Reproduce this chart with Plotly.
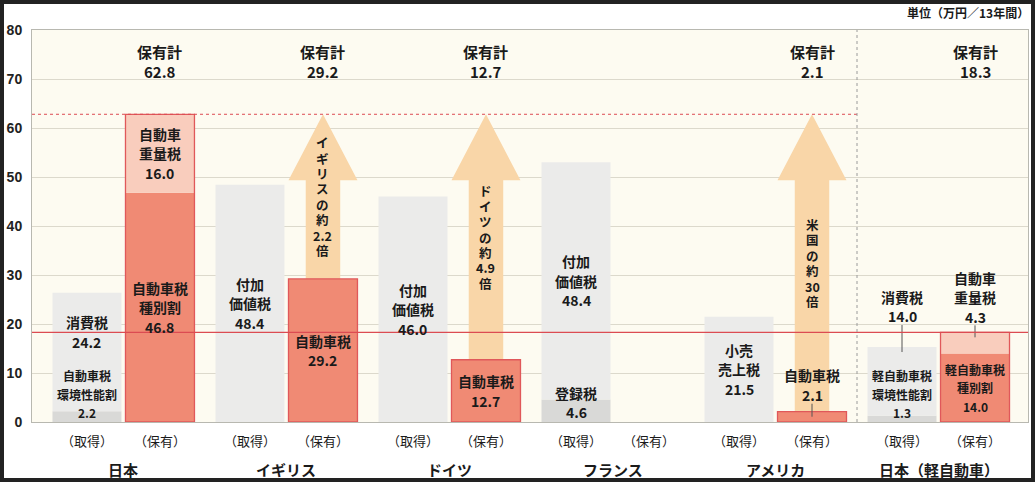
import plotly.graph_objects as go

# ---------------- data ----------------
groups = ["日本", "イギリス", "ドイツ", "フランス", "アメリカ", "日本（軽自動車）"]
kind_labels = ["（取得）", "（保有）"]

acq_low = [2.2, None, None, 4.6, None, 1.3]
acq_low_names = ["自動車税<br>環境性能割", None, None, "登録税", None, "軽自動車税<br>環境性能割"]
acq_main = [24.2, 48.4, 46.0, 48.4, 21.5, 14.0]
acq_main_names = ["消費税", "付加<br>価値税", "付加<br>価値税", "付加<br>価値税", "小売<br>売上税", "消費税"]
own_main = [46.8, 29.2, 12.7, None, 2.1, 14.0]
own_main_names = ["自動車税<br>種別割", "自動車税", "自動車税", None, "自動車税", "軽自動車税<br>種別割"]
own_top = [16.0, None, None, None, None, 4.3]
own_top_names = ["自動車<br>重量税", None, None, None, None, "自動車<br>重量税"]
ratio_labels = [None, "イギリスの約2.2倍", "ドイツの約4.9倍", None, "米国の約30倍", None]
total_label = "保有計"
unit_label = "単位（万円／13年間）"

# ---------------- layout constants ----------------
W, H = 1035, 482
ML, MR, MT, MB = 32, 7, 30, 60
PW, PH = W - ML - MR, H - MT - MB
GROUP_STEP = 2.233
BAR_W = 0.945
X_RANGE = [-0.753, -0.753 + PW / 73.0]
Y_RANGE = [0, 80]
UNIT_PX = PH / (Y_RANGE[1] - Y_RANGE[0])

FONT = "Noto Sans CJK JP"
C_GRAY = "#EBEBEA"
C_GRAY_D = "#D9D9D7"
C_SALMON = "#F08A74"
C_PINK = "#F9CDBD"
C_RED = "#DC4B52"
C_OUTLINE = "#E0585A"
C_ARROW = "#F9D6A8"
C_BG = "#FDFBF1"
C_TXT = "#1a1a1a"

n = len(groups)
x_acq = [i * GROUP_STEP for i in range(n)]
x_own = [i * GROUP_STEP + 1 for i in range(n)]


def nz(v):
    return v if v is not None else 0.0


acq_base = [nz(a) for a in acq_low]
own_base = [nz(a) for a in own_main]
own_totals = [None if (m is None and t is None) else round(nz(m) + nz(t), 1) for m, t in zip(own_main, own_top)]
jp_total = own_totals[0]
kei_total = own_totals[5]

fig = go.Figure()
bar_common = dict(width=BAR_W, hoverinfo="skip", showlegend=False)
fig.add_trace(go.Bar(x=x_acq, y=acq_low, base=[0] * n, marker=dict(color=C_GRAY_D, line=dict(width=0)), **bar_common))
fig.add_trace(go.Bar(x=x_acq, y=acq_main, base=acq_base, marker=dict(color=C_GRAY, line=dict(width=0)), **bar_common))
fig.add_trace(go.Bar(x=x_own, y=own_main, base=[0] * n, marker=dict(color=C_SALMON, line=dict(width=0)), **bar_common))
fig.add_trace(go.Bar(x=x_own, y=own_top, base=own_base, marker=dict(color=C_PINK, line=dict(width=0)), **bar_common))
fig.add_trace(go.Bar(x=x_own, y=own_totals, base=[0] * n,
                     marker=dict(color="rgba(0,0,0,0)", line=dict(color=C_OUTLINE, width=1.3)), **bar_common))

shapes = []
annotations = []


def add_lines(xc, y, lines, spacing, anchor, shift, size, yref="y"):
    """Place each text line as its own annotation so the line spacing matches."""
    k = len(lines)
    for j, line in enumerate(lines):
        if anchor == "middle":
            off = ((k - 1) / 2 - j) * spacing
        else:  # bottom: last line sits on the anchor
            off = (k - 1 - j) * spacing + spacing / 2
        annotations.append(dict(x=xc, y=y, xref="x", yref=yref, text=f"<b>{line}</b>", showarrow=False,
                                xanchor="center", yanchor="middle", yshift=shift + off,
                                font=dict(family=FONT, size=size, color=C_TXT)))


# arrows
head_h = 66 / UNIT_PX
for i, lab in enumerate(ratio_labels):
    if not lab:
        continue
    xc = x_own[i]
    y0 = own_totals[i]
    tip = jp_total
    hb = tip - head_h
    hw = BAR_W / 2
    hs = BAR_W / 4
    path = (f"M {xc-hs},{y0} L {xc-hs},{hb} L {xc-hw},{hb} L {xc},{tip} "
            f"L {xc+hw},{hb} L {xc+hs},{hb} L {xc+hs},{y0} Z")
    shapes.append(dict(type="path", path=path, xref="x", yref="y", fillcolor=C_ARROW,
                       line=dict(width=0), layer="between"))
    tokens = []
    for ch in lab:
        if tokens and (ch.isdigit() or ch == ".") and (tokens[-1][-1].isdigit() or tokens[-1][-1] == "."):
            tokens[-1] += ch
        else:
            tokens.append(ch)
    add_lines(xc, (y0 + tip) / 2, tokens, 15.4, "middle", 0, 12.5)

# segment labels: mode mid / bottom / above ; yshift in px
label_mode = {
    (0, "acq_low"): ("bottom", 0),
    (0, "acq_main"): ("mid", 20),
    (3, "acq_low"): ("bottom", 0),
    (4, "own_main"): ("above", 7),
    (5, "acq_low"): ("bottom", 0),
    (5, "acq_main"): ("above", 21),
    (5, "own_top"): ("above", 6),
}


def add_label(i, part, xc, base, val, name):
    if val is None or not name:
        return
    mode, shift = label_mode.get((i, part), ("mid", 0))
    lines = name.split("<br>") + [f"{val:.1f}"]
    longest = max(len(s) for s in lines)
    fs = 12 if longest >= 5 else 14
    sp = 18.5 if longest >= 5 else 19.5
    top = base + val
    if mode == "mid":
        add_lines(xc, base + val / 2, lines, sp, "middle", shift, fs)
    elif mode == "bottom":
        add_lines(xc, base, lines, sp, "bottom", shift, fs)
    else:
        shapes.append(dict(type="line", xref="x", yref="y", x0=xc, x1=xc,
                           y0=top - 5 / UNIT_PX, y1=top + (shift + 1) / UNIT_PX,
                           line=dict(color="#555", width=1), layer="above"))
        add_lines(xc, top, lines, sp, "bottom", shift, fs)


for i in range(n):
    add_label(i, "acq_low", x_acq[i], 0, acq_low[i], acq_low_names[i])
    add_label(i, "acq_main", x_acq[i], acq_base[i], acq_main[i], acq_main_names[i])
    add_label(i, "own_main", x_own[i], 0, own_main[i], own_main_names[i])
    add_label(i, "own_top", x_own[i], own_base[i], own_top[i], own_top_names[i])
    if own_totals[i] is not None:
        add_lines(x_own[i], 73.6, [total_label, f"{own_totals[i]:.1f}"], 20, "middle", 0, 15)
    annotations.append(dict(x=(x_acq[i] + x_own[i]) / 2, y=-(470 - (MT + PH)) / PH, xref="x", yref="paper",
                            text=f"<b>{groups[i]}</b>", showarrow=False, xanchor="center", yanchor="middle",
                            font=dict(family=FONT, size=15, color=C_TXT)))

# reference lines
divider_x = (x_own[4] + x_acq[5]) / 2
shapes.append(dict(type="line", xref="x", yref="y", x0=X_RANGE[0], x1=divider_x, y0=jp_total, y1=jp_total,
                   line=dict(color=C_RED, width=1, dash="dot"), layer="above"))
shapes.append(dict(type="line", xref="x", yref="y", x0=X_RANGE[0], x1=X_RANGE[1], y0=kei_total, y1=kei_total,
                   line=dict(color=C_RED, width=1.2), layer="above"))
shapes.append(dict(type="line", xref="x", yref="y", x0=divider_x, x1=divider_x, y0=Y_RANGE[0], y1=Y_RANGE[1],
                   line=dict(color="#9a9a9a", width=1, dash="dot"), layer="above"))
# outer dark frame
shapes.append(dict(type="rect", xref="paper", yref="paper",
                   x0=-ML / PW, x1=(W - ML) / PW, y0=-MB / PH, y1=1 + MT / PH,
                   line=dict(color="#222222", width=8), fillcolor="rgba(0,0,0,0)", layer="above"))

annotations.append(dict(x=(W - ML - 4) / PW, y=1 + (MT - 12) / PH, xref="paper", yref="paper",
                        text=f"<b>{unit_label}</b>",
                        showarrow=False, xanchor="right", yanchor="middle",
                        font=dict(family=FONT, size=12, color=C_TXT)))

fig.update_layout(
    width=W, height=H,
    margin=dict(l=ML, r=MR, t=MT, b=MB),
    paper_bgcolor="white", plot_bgcolor=C_BG,
    barmode="overlay",
    shapes=shapes, annotations=annotations,
    font=dict(family=FONT, color=C_TXT),
)
fig.update_xaxes(range=X_RANGE, tickvals=x_acq + x_own,
                 ticktext=[kind_labels[0]] * n + [kind_labels[1]] * n,
                 tickfont=dict(family=FONT, size=13, color=C_TXT), ticks="outside", ticklen=7,
                 tickcolor="rgba(0,0,0,0)", showgrid=False, zeroline=False,
                 showline=True, linecolor="#b8b8b0", mirror=True)
fig.update_yaxes(range=Y_RANGE, dtick=10, tickfont=dict(family="Liberation Sans", size=14, color="#222"),
                 tickprefix="<b>", ticksuffix="</b>",
                 showgrid=True, gridcolor="#dcd9cc", gridwidth=1, zeroline=False,
                 showline=True, linecolor="#b8b8b0", mirror=True, ticks="outside", ticklen=6,
                 tickcolor="rgba(0,0,0,0)")

fig.write_html("out.html")
